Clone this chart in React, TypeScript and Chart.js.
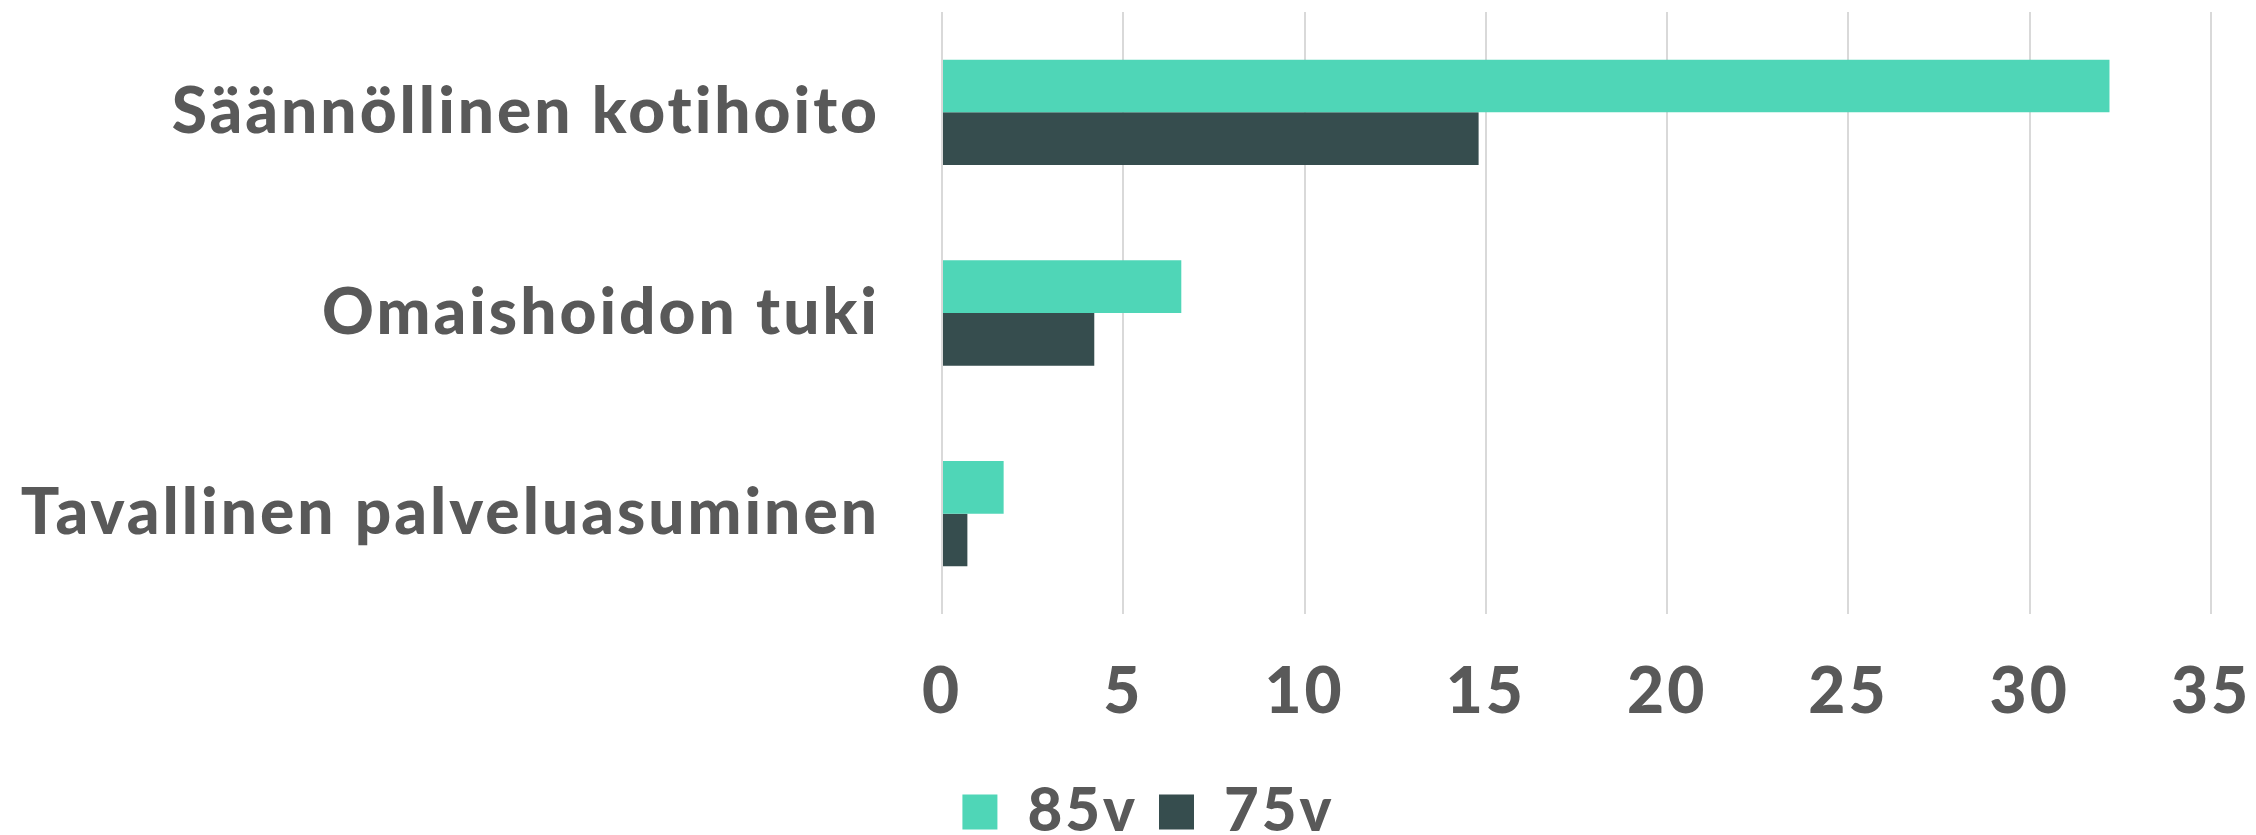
import React, { useEffect, useRef } from "react";
import { Chart, registerables } from "chart.js";

Chart.register(...registerables);

const categories = ["Säännöllinen kotihoito", "Omaishoidon tuki", "Tavallinen palveluasuminen"];
const series85 = [32.2, 6.6, 1.7];
const series75 = [14.8, 4.2, 0.7];
const seriesLabels = ["85v", "75v"];
const xMin = 0;
const xMax = 35;
const xStep = 5;

const FONT = "Lato, 'Open Sans', sans-serif";
const TEXT = "#595959";
const LEGEND_SHIFT = 43;

const spacingPlugin = {
  id: "letterSpacing",
  beforeUpdate: (c: any) => { c.ctx.letterSpacing = "3px"; },
  beforeLayout: (c: any) => { c.ctx.letterSpacing = "3px"; },
  afterLayout: (c: any) => {
    if (c.legend) { c.legend.left += LEGEND_SHIFT; c.legend.right += LEGEND_SHIFT; }
  },
  beforeDraw: (c: any) => { c.ctx.letterSpacing = "3px"; },
};

export default function App() {
  const ref = useRef<HTMLCanvasElement | null>(null);
  useEffect(() => {
    if (!ref.current) return;
    const chart = new Chart(ref.current, {
      type: "bar",
      data: {
        labels: categories,
        datasets: [
          { label: seriesLabels[0], data: series85, backgroundColor: "#4FD6B7", borderWidth: 0 },
          { label: seriesLabels[1], data: series75, backgroundColor: "#364D4E", borderWidth: 0 },
        ],
      },
      plugins: [spacingPlugin],
      options: {
        indexAxis: "y",
        animation: false,
        responsive: false,
        maintainAspectRatio: false,
        layout: { padding: { top: 12, right: 45, left: 0, bottom: -17 } },
        datasets: { bar: { categoryPercentage: 0.525, barPercentage: 1 } },
        scales: {
          x: {
            min: xMin,
            max: xMax,
            ticks: { stepSize: xStep, color: TEXT, font: { family: FONT, size: 64, weight: "900" }, padding: 40 },
            grid: { color: "#D9D9D9", lineWidth: 2, drawTicks: false },
            border: { display: false },
            afterFit: (s: any) => { s.height = 147; s.paddingLeft = 0; s.paddingRight = 0; },
          },
          y: {
            ticks: { color: TEXT, font: { family: FONT, size: 64, weight: "900" }, padding: 62 },
            grid: { display: false, drawTicks: false },
            border: { display: false },
            afterFit: (s: any) => { s.width = 942; s.paddingTop = 0; s.paddingBottom = 0; },
          },
        },
        plugins: {
          tooltip: { enabled: false },
          legend: {
            position: "bottom",
            labels: {
              color: TEXT,
              font: { family: FONT, size: 60, weight: "900" },
              boxWidth: 35,
              boxHeight: 35,
              padding: 21,
            },
          },
        },
      },
    });
    return () => chart.destroy();
  }, []);
  return (
    <div style={{ position: "absolute", left: 0, top: 0, width: 2256, height: 835, background: "#fff" }}>
      <canvas ref={ref} width={2256} height={835} style={{ width: 2256, height: 835, display: "block" }} />
    </div>
  );
}
